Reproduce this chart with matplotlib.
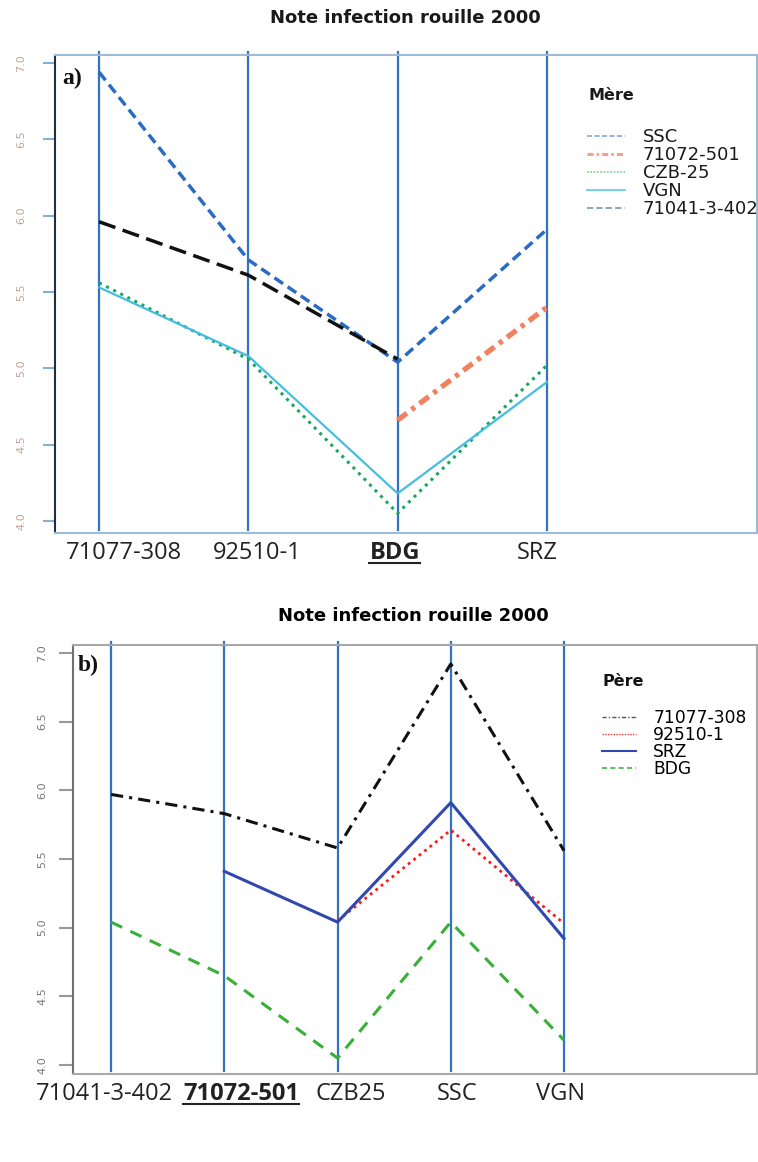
import numpy as np
import matplotlib.pyplot as plt
from matplotlib.lines import Line2D
from matplotlib.transforms import ScaledTranslation

# a) x axis = Pere, one line per Mere
pere_a = ['71077-308', '92510-1', 'BDG', 'SRZ']
mere_a = ['SSC', '71072-501', 'CZB-25', 'VGN', '71041-3-402']
ssc_a = [6.94, 5.71, 5.04, 5.91]
m71072_a = [np.nan, np.nan, 4.66, 5.40]
czb_a = [5.56, 5.06, 4.05, 5.02]
vgn_a = [5.53, 5.08, 4.18, 4.91]
m71041_a = [5.96, 5.61, 5.06, np.nan]

# b) x axis = Mere, one line per Pere
mere_b = ['71041-3-402', '71072-501', 'CZB25', 'SSC', 'VGN']
pere_b = ['71077-308', '92510-1', 'SRZ', 'BDG']
p71077_b = [5.97, 5.83, 5.58, 6.92, 5.56]
p92510_b = [np.nan, np.nan, 5.05, 5.71, 5.03]
srz_b = [np.nan, 5.41, 5.04, 5.91, 4.92]
bdg_b = [5.04, 4.65, 4.05, 5.04, 4.18]

yticks = [4.0, 4.5, 5.0, 5.5, 6.0, 6.5, 7.0]
title = 'Note infection rouille 2000'

# label shifts in pixels (labels in the original are not exactly centred)
shift_a = [25, 9, -3, -10]
shift_b = [-7, 17, 13, 6, -4]
bold_a = 'BDG'
bold_b = '71072-501'

VLINE = '#2e74c0'

fig = plt.figure(figsize=(7.58, 11.62), dpi=100)
ax1 = fig.add_axes([55/758, 1-533/1162, 702/758, 478/1162])
ax2 = fig.add_axes([73/758, 1-1074/1162, 684/758, 429/1162])


def cat_axis(ax, cats, shifts, bold, pad):
    x = np.arange(1, len(cats)+1)
    ax.set_xticks(x)
    ax.set_xticklabels(cats, fontfamily='Open Sans', fontsize=17, color='#222222')
    ax.tick_params(axis='x', length=0, pad=pad)
    for lab, dx in zip(ax.get_xticklabels(), shifts):
        lab.set_transform(lab.get_transform() + ScaledTranslation(dx/100, 0, fig.dpi_scale_trans))
        if lab.get_text() == bold:
            lab.set_fontweight('bold')
    for xi in x:
        ax.axvline(xi, ymin=0.006, ymax=1.006, color=VLINE, lw=1.6, clip_on=False, zorder=1)
    return x


# ---------- panel a ----------
xa = cat_axis(ax1, pere_a, shift_a, bold_a, 5.5)
ax1.plot(xa, ssc_a, color='#2a6cc4', lw=2.5, ls=(0, (3, 1.6)), zorder=3)
ax1.plot(xa, m71072_a, color='#f08262', lw=3.8, ls=(0, (2.2, 1.1, 0.8, 1.1)), zorder=3)
ax1.plot(xa, czb_a, color='#1aa860', lw=2.2, ls=(0, (1, 1.6)), zorder=3)
ax1.plot(xa, vgn_a, color='#45bde0', lw=1.6, zorder=3)
ax1.plot(xa, m71041_a, color='#111111', lw=2.5, ls=(0, (5, 2.2)), zorder=3)
ax1.set_xlim(0.705, 5.407)
ax1.set_ylim(3.921, 7.052)
ax1.set_yticks(yticks)
ax1.set_yticklabels([f'{v:.1f}' for v in yticks], rotation=90, va='center',
                    fontsize=8, color='#c0a494')
ax1.tick_params(axis='y', length=8.6, width=1.5, color='#7fb0d8', pad=12)
for s in ax1.spines.values():
    s.set_color('#9dbbd6')
    s.set_linewidth(1.5)
ax1.spines['left'].set_color('#1f3040')
ax1.text(0.010, 0.950, 'a)', transform=ax1.transAxes, fontfamily='Liberation Serif',
         fontweight='bold', fontsize=17, va='center', ha='left', color='#111111')
ha = [Line2D([], [], color='#7fa8e0', lw=1.2, ls=(0, (3, 1.5))),
      Line2D([], [], color='#f4a090', lw=2.2, ls=(0, (2, 1, 0.8, 1))),
      Line2D([], [], color='#7cc88a', lw=1.2, ls=(0, (1, 1))),
      Line2D([], [], color='#58c8e8', lw=1.2),
      Line2D([], [], color='#8aa8c0', lw=1.5, ls=(0, (3, 1.5)))]
leg1 = ax1.legend(ha, mere_a, loc='upper left', bbox_to_anchor=(587/758, 1-128/1162),
                  bbox_transform=fig.transFigure, frameon=False, fontsize=13,
                  handlelength=2.1, handletextpad=1.0, labelspacing=0.0,
                  borderpad=0, borderaxespad=0)
for t in leg1.get_texts():
    t.set_color('#1a1a1a')
fig.text(588/758, 1-95/1162, 'Mère', fontsize=11.5, fontweight='bold', va='center',
         ha='left', color='#1a1a1a')
fig.text(405/758, 1-18/1162, title, fontsize=13, fontweight='bold', ha='center',
         va='center', color='#1a1a1a')

# ---------- panel b ----------
xb = cat_axis(ax2, mere_b, shift_b, bold_b, 5.5)
ax2.plot(xb, p71077_b, color='#111111', lw=2.2, ls=(0, (4, 2, 1, 2)), zorder=3)
ax2.plot(xb, p92510_b, color='#ff1a1a', lw=2.0, ls=(0, (1, 1.5)), zorder=3)
ax2.plot(xb, srz_b, color='#3048b0', lw=2.2, zorder=3)
ax2.plot(xb, bdg_b, color='#38b038', lw=2.2, ls=(0, (4, 3)), zorder=3)
ax2.set_xlim(0.664, 6.704)
ax2.set_ylim(3.934, 7.058)
ax2.set_yticks(yticks)
ax2.set_yticklabels([f'{v:.1f}' for v in yticks], rotation=90, va='center',
                    fontsize=8, color='#777777')
ax2.tick_params(axis='y', length=10, width=1.5, color='#999999', pad=8.6)
for s in ax2.spines.values():
    s.set_color('#a8a8a8')
    s.set_linewidth(1.5)
ax2.spines['left'].set_color('#707070')
ax2.text(0.007, 0.953, 'b)', transform=ax2.transAxes, fontfamily='Liberation Serif',
         fontweight='bold', fontsize=17, va='center', ha='left', color='#111111')
hb = [Line2D([], [], color='#555555', lw=1, ls=(0, (3, 1.5, 1, 1.5))),
      Line2D([], [], color='#ff3030', lw=1, ls=(0, (1, 1))),
      Line2D([], [], color='#3048b0', lw=1.5),
      Line2D([], [], color='#40b040', lw=1.2, ls=(0, (3, 2)))]
ax2.legend(hb, pere_b, loc='upper left', bbox_to_anchor=(602/758, 1-709/1162),
           bbox_transform=fig.transFigure, frameon=False, fontsize=12.3,
           handlelength=2.0, handletextpad=1.0, labelspacing=-0.05,
           borderpad=0, borderaxespad=0)
fig.text(603/758, 1-682/1162, 'Père', fontsize=11.5, fontweight='bold', va='center',
         ha='left', color='#111111')
fig.text(413/758, 1-616/1162, title, fontsize=13, fontweight='bold', ha='center',
         va='center', color='#000000')

# underline the bold category labels
fig.canvas.draw()
r = fig.canvas.get_renderer()
inv = fig.transFigure.inverted()
for ax, bold in [(ax1, bold_a), (ax2, bold_b)]:
    for lab in ax.get_xticklabels():
        if lab.get_text() == bold:
            bb = lab.get_window_extent(r)
            (x0, y0), (x1, _) = inv.transform([(bb.x0, bb.y0 + 1.5), (bb.x1, bb.y0)])
            fig.add_artist(Line2D([x0, x1], [y0, y0], color='#222222', lw=1.5))

fig.savefig('out.png', dpi=100)
